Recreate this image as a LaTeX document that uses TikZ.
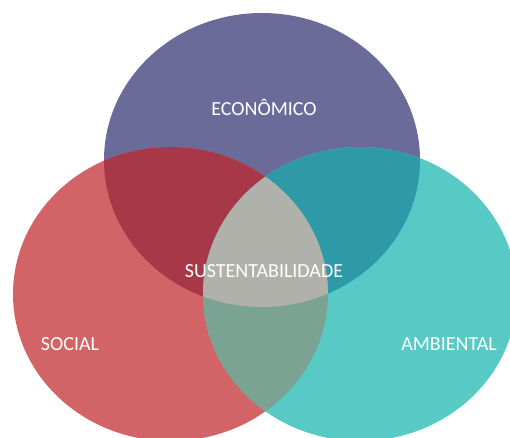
\documentclass[tikz,border=0pt]{standalone}
\usepackage{fontspec}
\setmainfont{Carlito}
\definecolor{cEco}{HTML}{6B6B99}
\definecolor{cSoc}{HTML}{D26366}
\definecolor{cAmb}{HTML}{57CAC5}
\definecolor{cSocEco}{HTML}{A83848}
\definecolor{cEcoAmb}{HTML}{2E9AA8}
\definecolor{cSocAmb}{HTML}{7BA393}
\definecolor{cAll}{HTML}{B0B1AA}
\tikzset{lbl/.style={text=white,font=\fontsize{20}{20}\selectfont,inner sep=0pt}}
\begin{document}
\begin{tikzpicture}[x=1pt,y=-1pt]
\useasboundingbox (0,0) rectangle (510,437);
\def\eco{(262,160) ellipse [x radius=158,y radius=147]}
\def\soc{(170.5,294) ellipse [x radius=157.5,y radius=147]}
\def\amb{(360,294) ellipse [x radius=157,y radius=147]}
\begin{scope}
\clip (0,0) rectangle (510,437);
\fill[cEco] \eco;
\fill[cSoc] \soc;
\fill[cAmb] \amb;
\begin{scope}\clip \eco; \fill[cSocEco] \soc; \fill[cEcoAmb] \amb;\end{scope}
\begin{scope}\clip \soc; \fill[cSocAmb] \amb;\end{scope}
\begin{scope}\clip \eco; \clip \soc; \fill[cAll] \amb;\end{scope}
\end{scope}
\node[lbl] (eco) at (264,107) {ECONÔMICO};
\node[lbl] (sus) at (264,271) {SUSTENTABILIDADE};
\node[lbl] (soc) at (70,344) {SOCIAL};
\node[lbl] (amb) at (449,344) {AMBIENTAL};
\end{tikzpicture}
\end{document}
